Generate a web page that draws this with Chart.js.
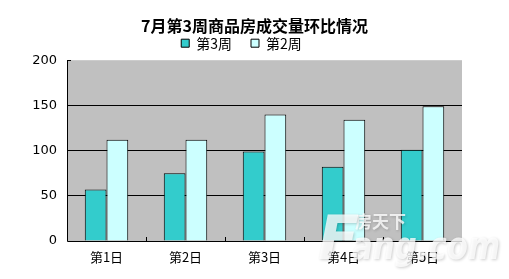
<!DOCTYPE html>
<html><head><meta charset="utf-8">
<script src="https://cdn.jsdelivr.net/npm/chart.js@4"></script>
<style>html,body{margin:0;padding:0;background:#fff}#wrap{width:509px;height:279px}</style>
</head><body><div id="wrap"><canvas id="c" width="509" height="279"></canvas></div>
<script>
const chartTitle = '7月第3周商品房成交量环比情况';
const categories = ['第1日','第2日','第3日','第4日','第5日'];
const seriesNames = ['第3周','第2周'];
const week3 = [57, 75, 99, 82, 101];
const week2 = [112, 112, 140, 134, 149];
const yTicks = [0, 50, 100, 150, 200];
const watermark = ['房天下', 'F', 'ang.com'];

const cjk = '"Noto Sans CJK SC", sans-serif';
const num = '"DejaVu Sans", sans-serif';

const plotBg = {
  id: 'plotBg',
  afterLayout(chart) {
    if (chart.legend) { chart.legend.left -= 13; chart.legend.right -= 13; }
  },
  beforeDraw(chart) {
    const {ctx, chartArea: a} = chart;
    ctx.save();
    ctx.fillStyle = '#C0C0C0';
    ctx.fillRect(a.left, a.top, a.right - a.left, a.bottom - a.top);
    ctx.restore();
  },
  afterDatasetsDraw(chart) {
    const {ctx, chartArea: a, scales} = chart;
    ctx.save();
    ctx.strokeStyle = '#000';
    ctx.lineWidth = 1;
    const x = scales.x;
    for (let i = 1; i < categories.length; i++) {
      const px = Math.round((x.getPixelForValue(i - 1) + x.getPixelForValue(i)) / 2) + 0.5;
      ctx.beginPath(); ctx.moveTo(px, a.bottom); ctx.lineTo(px, a.bottom - 4); ctx.stroke();
    }
    const y = scales.y;
    const ty = Math.round(y.getPixelForValue(200)) + 0.5;
    ctx.beginPath(); ctx.moveTo(a.left, ty); ctx.lineTo(a.left + 4, ty); ctx.stroke();
    ctx.beginPath();
    ctx.moveTo(Math.round(a.left) + 0.5, a.top);
    ctx.lineTo(Math.round(a.left) + 0.5, Math.round(a.bottom) + 0.5);
    ctx.lineTo(a.right, Math.round(a.bottom) + 0.5);
    ctx.stroke();
    ctx.restore();
  },
  afterDraw(chart) {
    const {ctx} = chart;
    ctx.save();
    ctx.fillStyle = 'rgba(255,255,255,0.78)';
    ctx.shadowColor = 'rgba(0,0,0,0.25)';
    ctx.shadowBlur = 3;
    ctx.shadowOffsetX = 1; ctx.shadowOffsetY = 1;
    ctx.textBaseline = 'alphabetic';
    ctx.font = 'bold 17px ' + cjk;
    ctx.fillText(watermark[0], 355, 228);
    ctx.font = 'italic bold 60px "DejaVu Sans", sans-serif';
    ctx.fillText(watermark[1], 318, 259);
    ctx.font = 'italic bold 38px "DejaVu Sans", sans-serif';
    const w = ctx.measureText(watermark[2]).width;
    ctx.translate(352, 259);
    ctx.scale(148 / w, 1);
    ctx.fillText(watermark[2], 0, 0);
    ctx.restore();
  }
};

new Chart(document.getElementById('c'), {
  type: 'bar',
  data: {
    labels: categories,
    datasets: [
      {label: seriesNames[0], data: week3, backgroundColor: '#33CCCC', borderColor: '#000', borderWidth: 1, yAxisID: 'y'},
      {label: seriesNames[1], data: week2, backgroundColor: '#CCFFFF', borderColor: '#000', borderWidth: 1, yAxisID: 'y'}
    ]
  },
  options: {
    responsive: false,
    animation: false,
    devicePixelRatio: 1,
    layout: {padding: 0},
    datasets: {bar: {categoryPercentage: 0.55, barPercentage: 1}},
    plugins: {
      title: {display: true, text: chartTitle, color: '#000',
        font: {family: cjk, size: 16, weight: 'bold', lineHeight: 1.2},
        padding: {top: 16, bottom: -18}},
      legend: {display: true, position: 'top',
        labels: {color: '#000', boxWidth: 8, boxHeight: 8, padding: 19,
          font: {family: cjk, size: 14}}},
      tooltip: {enabled: false}
    },
    scales: {
      x: {
        offset: true,
        grid: {display: false, drawTicks: false},
        border: {display: false},
        ticks: {color: '#000', padding: 8, font: {family: cjk, size: 13}},
        afterFit(s) { s.height = 38; }
      },
      y: {
        min: 0, max: 200,
        afterBuildTicks(s) { s.ticks = yTicks.map(v => ({value: v})); },
        grid: {drawTicks: false, lineWidth: 1,
          color: c => (c.tick && c.tick.value > 0 && c.tick.value < 200) ? '#000' : 'rgba(0,0,0,0)'},
        border: {display: false},
        ticks: {color: '#000', padding: 10, font: {family: num, size: 13}},
        afterFit(s) { s.width = 67; }
      },
      yRight: {
        position: 'right',
        display: true,
        grid: {display: false, drawTicks: false},
        border: {display: false},
        ticks: {display: false},
        afterFit(s) { s.width = 47; }
      }
    }
  },
  plugins: [plotBg]
});
</script></body></html>
